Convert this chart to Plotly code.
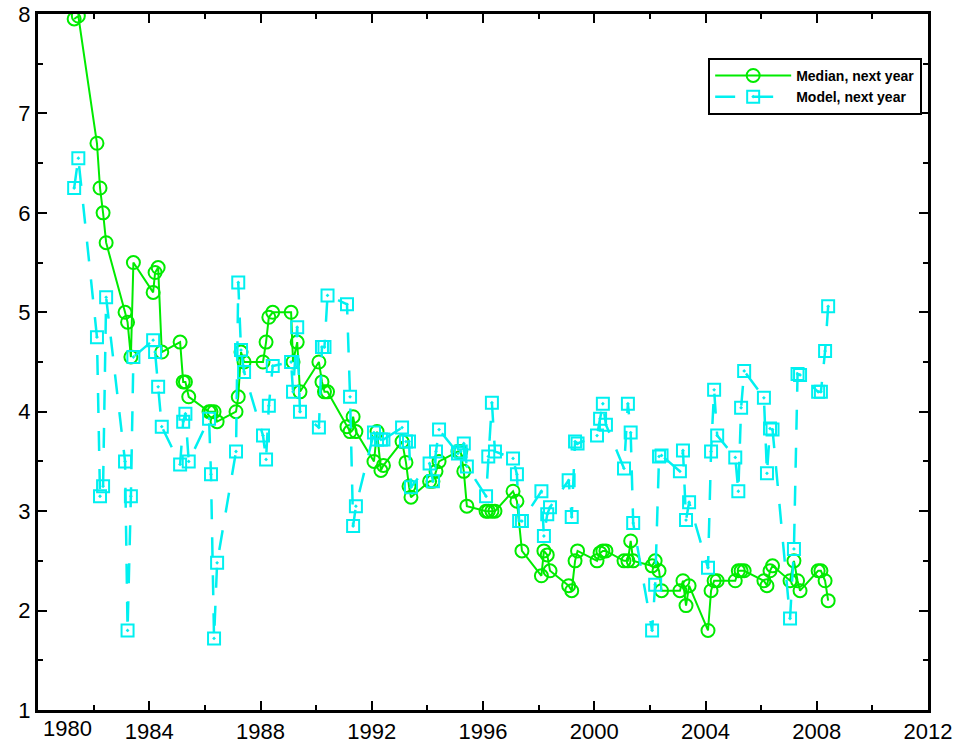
import plotly.graph_objects as go

# Decimal-year dates of each survey observation
dates = [
    1981.30, 1981.45,
    1982.12, 1982.23, 1982.34, 1982.45,
    1983.13, 1983.22, 1983.34, 1983.43,
    1984.14, 1984.21, 1984.32, 1984.45,
    1985.11, 1985.22, 1985.30, 1985.42,
    1986.15, 1986.22, 1986.33, 1986.44,
    1987.12, 1987.20, 1987.30, 1987.41,
    1988.09, 1988.20, 1988.30, 1988.44,
    1989.10, 1989.17, 1989.32, 1989.42,
    1990.10, 1990.21, 1990.30, 1990.41,
    1991.11, 1991.22, 1991.33, 1991.43,
    1992.08, 1992.19, 1992.33, 1992.42,
    1993.09, 1993.23, 1993.34, 1993.41,
    1994.08, 1994.20, 1994.31, 1994.42,
    1995.10, 1995.20, 1995.31, 1995.42,
    1996.11, 1996.19, 1996.32, 1996.43,
    1997.08, 1997.22, 1997.30, 1997.40,
    1998.10, 1998.19, 1998.31, 1998.41,
    1999.08, 1999.19, 1999.31, 1999.40,
    2000.10, 2000.21, 2000.31, 2000.42,
    2001.07, 2001.21, 2001.31, 2001.40,
    2002.08, 2002.19, 2002.33, 2002.42,
    2003.08, 2003.19, 2003.30, 2003.41,
    2004.09, 2004.20, 2004.31, 2004.42,
    2005.07, 2005.18, 2005.28, 2005.39,
    2006.10, 2006.21, 2006.32, 2006.41,
    2007.04, 2007.18, 2007.31, 2007.40,
    2008.05, 2008.15, 2008.30, 2008.41,
]

median_next_year = [
    7.95, 7.98,
    6.70, 6.25, 6.00, 5.70,
    5.00, 4.90, 4.55, 5.50,
    5.20, 5.40, 5.45, 4.60,
    4.70, 4.30, 4.30, 4.15,
    4.00, 4.00, 4.00, 3.90,
    4.00, 4.15, 4.60, 4.50,
    4.50, 4.70, 4.95, 5.00,
    5.00, 4.50, 4.70, 4.20,
    4.50, 4.30, 4.20, 4.20,
    3.85, 3.80, 3.95, 3.80,
    3.50, 3.80, 3.41, 3.46,
    3.70, 3.49, 3.25, 3.14,
    3.30, 3.30, 3.40, 3.50,
    3.60, 3.60, 3.40, 3.05,
    3.00, 3.00, 3.00, 3.00,
    3.20, 3.10, None, 2.60,
    2.35, 2.60, 2.56, 2.40,
    2.25, 2.20, 2.50, 2.60,
    2.50, 2.58, 2.60, 2.60,
    2.50, 2.50, 2.70, 2.50,
    2.45, 2.50, 2.40, 2.20,
    2.20, 2.30, 2.05, 2.25,
    1.80, 2.20, 2.30, 2.30,
    2.30, 2.40, 2.40, 2.40,
    2.30, 2.25, 2.40, 2.45,
    2.30, 2.50, 2.30, 2.20,
    2.40, 2.40, 2.30, 2.10,
]

model_next_year = [
    6.25, 6.55,
    4.75, 3.15, 3.25, 5.15,
    3.50, 1.80, 3.15, 4.55,
    4.72, 4.60, 4.25, 3.85,
    3.47, 3.90, 3.98, 3.50,
    3.93, 3.37, 1.72, 2.48,
    3.60, 5.30, 4.62, 4.40,
    3.76, 3.52, 4.06, 4.46,
    4.50, 4.20, 4.85, 4.00,
    3.84, 4.65, 4.65, 5.17,
    5.08, 4.15, 2.85, 3.05,
    3.79, 3.72, 3.72, 3.72,
    3.84, 3.70, 3.70, 3.24,
    3.48, 3.30, 3.60, 3.82,
    3.58, 3.60, 3.68, 3.45,
    3.15, 3.55, 4.09, 3.60,
    3.53, 3.37, 2.90, 2.90,
    3.20, 2.75, 2.97, 3.04,
    3.31, 2.94, 3.70, 3.68,
    3.76, 3.93, 4.08, 3.87,
    3.43, 4.08, 3.79, 2.88,
    1.80, 2.26, 3.55, 3.56,
    3.40, 3.61, 2.91, 3.09,
    2.43, 3.60, 4.22, 3.76,
    3.54, 3.20, 4.04, 4.41,
    4.14, 3.38, 3.83, 3.82,
    1.92, 2.62, 4.38, 4.37,
    4.20, 4.20, 4.61, 5.06,
]

x_tick_vals = [1984, 1988, 1992, 1996, 2000, 2004, 2008, 2012]
x_tick_text = ["1984", "1988", "1992", "1996", "2000", "2004", "2008", "2012"]
first_x_label = "1980"
y_tick_vals = [1, 2, 3, 4, 5, 6, 7, 8]

GREEN = "rgb(0,235,0)"
CYAN = "rgb(0,240,240)"

fig = go.Figure()
fig.add_trace(go.Scatter(
    x=dates, y=median_next_year, name="Median, next year",
    mode="lines+markers", connectgaps=True,
    line=dict(color=GREEN, width=2),
    marker=dict(symbol="circle-open", size=13, color=GREEN, line=dict(width=2, color=GREEN)),
))
fig.add_trace(go.Scatter(
    x=dates, y=model_next_year, name="Model, next year",
    mode="lines+markers",
    line=dict(color=CYAN, width=2.5, dash="20px,18px"),
    marker=dict(symbol="square-open-dot", size=12, color=CYAN, line=dict(width=2, color=CYAN)),
))

axis_common = dict(
    showline=True, linecolor="black", linewidth=3, mirror="allticks",
    ticks="inside", ticklen=9, tickwidth=2, tickcolor="black",
    showgrid=False, zeroline=False, automargin=False,
    tickfont=dict(family="Liberation Sans, Arial, sans-serif", size=22, color="black"),
)

fig.update_xaxes(
    range=[1980, 2012], tickmode="array", tickvals=x_tick_vals, ticktext=x_tick_text,
    minor=dict(dtick=2, tick0=1980, ticks="inside", ticklen=5, tickwidth=2, tickcolor="black", showgrid=False),
    **axis_common,
)
fig.update_yaxes(
    range=[1, 8], tickmode="array", tickvals=y_tick_vals,
    minor=dict(dtick=0.5, tick0=1, ticks="inside", ticklen=5, tickwidth=2, tickcolor="black", showgrid=False),
    **axis_common,
)

fig.add_annotation(
    x=1981.05, y=0, xref="x", yref="paper", yanchor="top", yshift=-4,
    text=first_x_label, showarrow=False,
    font=dict(family="Liberation Sans, Arial, sans-serif", size=22, color="black"),
)

fig.update_layout(
    width=960, height=749,
    margin=dict(l=38, r=32, t=14, b=39),
    plot_bgcolor="white", paper_bgcolor="white",
    showlegend=True,
    legend=dict(
        x=0.753, y=0.937, xanchor="left", yanchor="top",
        bgcolor="white", bordercolor="black", borderwidth=2,
        font=dict(family="Liberation Sans, Arial, sans-serif", size=14, color="black", weight="bold"),
        itemwidth=76, tracegroupgap=0,
    ),
)

fig.write_html(
    "out.html",
    config={"displayModeBar": False},
    post_script="document.body.style.margin='0';document.body.style.padding='0';document.body.style.overflow='hidden';",
)
